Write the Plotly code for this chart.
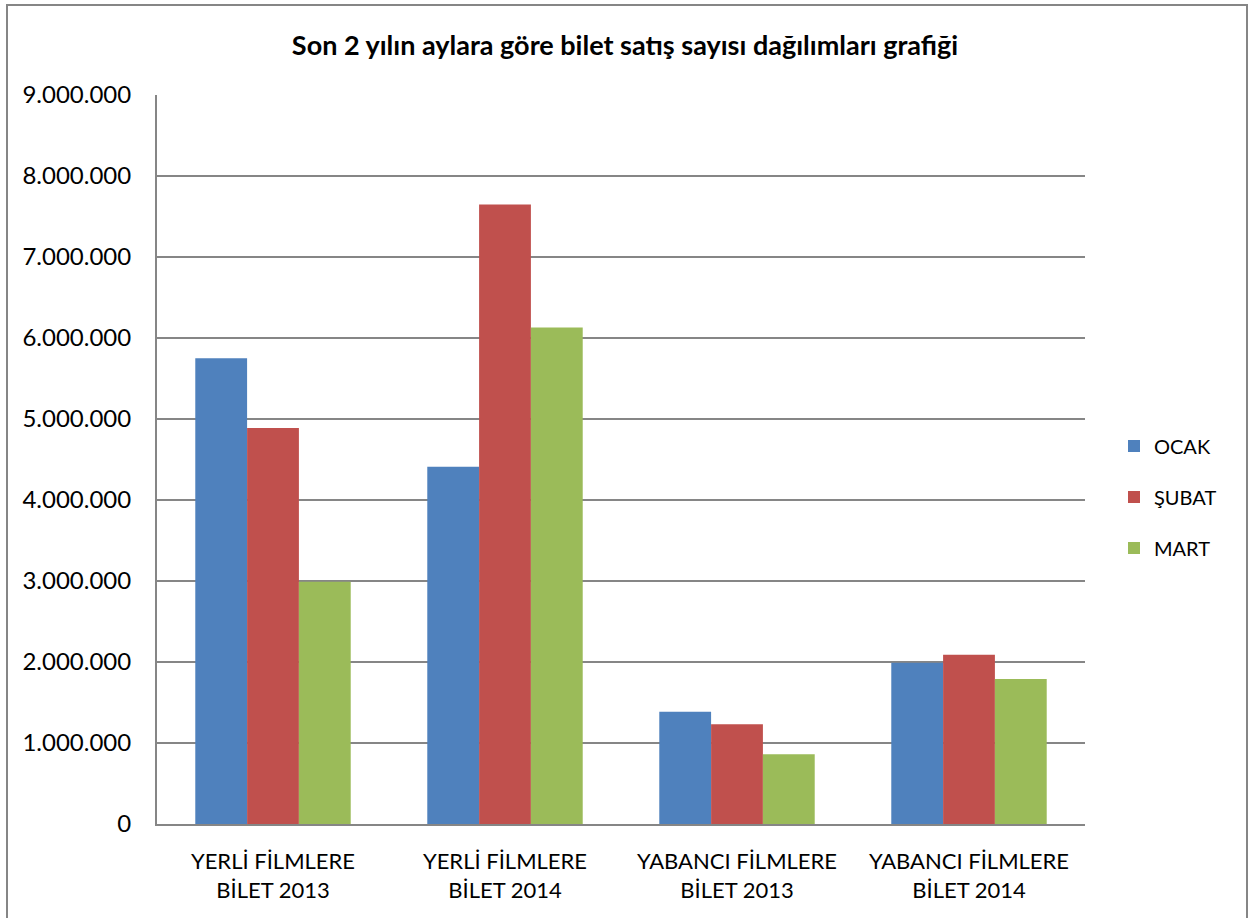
import plotly.graph_objects as go

categories = ["YERLİ FİLMLERE<br>BİLET 2013", "YERLİ FİLMLERE<br>BİLET 2014",
              "YABANCI FİLMLERE<br>BİLET 2013", "YABANCI FİLMLERE<br>BİLET 2014"]
series_names = ["OCAK", "ŞUBAT", "MART"]
ocak = [5751000, 4410000, 1385000, 1990000]
subat = [4889000, 7649000, 1230000, 2090000]
mart = [2990000, 6130000, 860000, 1790000]
colors = ["#4F81BD", "#C0504D", "#9BBB59"]
y_ticks = [0, 1000000, 2000000, 3000000, 4000000, 5000000, 6000000, 7000000, 8000000, 9000000]

FONT = "Lato, Open Sans, DejaVu Sans, sans-serif"

fig = go.Figure()
for name, vals, col in zip(series_names, [ocak, subat, mart], colors):
    fig.add_trace(go.Bar(x=categories, y=vals, name=name, marker_color=col,
                         marker_line_width=0, legendgroup=name))

W, H = 1250, 918
L, R, T, B = 157, 165, 95, 94
pw, ph = W - L - R, H - T - B

def px(x):
    return (x - L) / pw

def py(y):
    return (H - B - y) / ph

fig.update_layout(
    width=W, height=H,
    margin=dict(l=L, r=R, t=T, b=B),
    paper_bgcolor="white", plot_bgcolor="white",
    separators=",.",
    barmode="group", bargap=0.33, bargroupgap=0,
    title=dict(text="<b>Son 2 yılın aylara göre bilet satış sayısı dağılımları grafiği</b>",
               x=0.5, xanchor="center", y=1 - 46 / H, yanchor="middle",
               font=dict(family=FONT, size=27, color="black")),
    font=dict(family=FONT, size=22, color="black"),
    legend=dict(x=px(1114), y=py(497), xanchor="left", yanchor="middle",
                font=dict(family=FONT, size=20, color="black"),
                tracegroupgap=22, itemwidth=30, bgcolor="rgba(0,0,0,0)"),
    showlegend=True,
    shapes=[dict(type="rect", xref="paper", yref="paper",
                 x0=px(7), x1=px(1247), y0=py(930), y1=py(5),
                 line=dict(color="#868686", width=2), fillcolor="rgba(0,0,0,0)",
                 layer="below")],
)
fig.update_xaxes(showline=True, linecolor="#868686", linewidth=2, ticks="",
                 showgrid=False, tickfont=dict(family=FONT, size=22, color="black"),
                 ticklabelstandoff=17)
fig.update_yaxes(range=[0, 9000000], tickvals=y_ticks, tickformat=",d",
                 showgrid=True, gridcolor="#868686", gridwidth=1.5,
                 showline=True, linecolor="#868686", linewidth=2,
                 ticks="", zeroline=False,
                 tickfont=dict(family=FONT, size=24, color="black"),
                 ticklabelstandoff=19)

fig.write_html("out.html", config={"displayModeBar": False},
               post_script="document.body.style.margin='0';document.body.style.padding='0';")
